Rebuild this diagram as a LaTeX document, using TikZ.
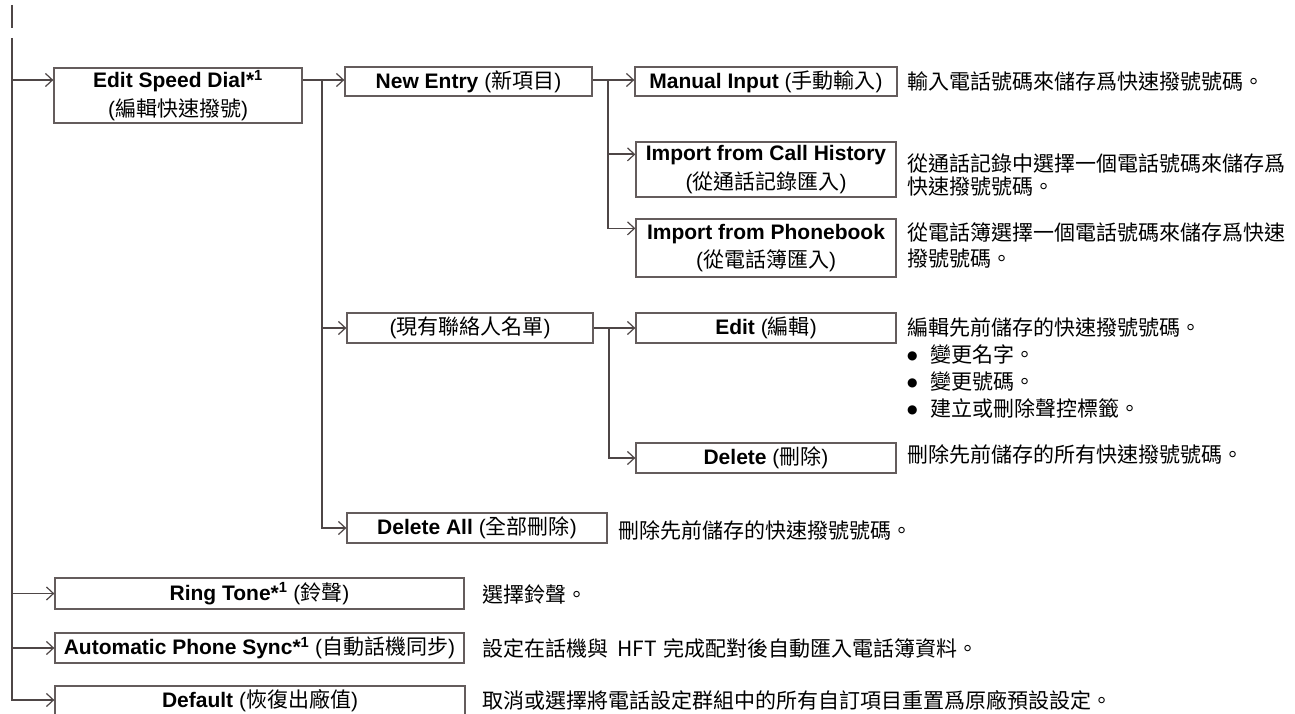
\documentclass[tikz,border=0pt]{standalone}
\usepackage{fontspec}
\setmainfont{Liberation Sans}
\newfontfamily\cjkfont{Noto Sans CJK TC}
\newfontfamily\bulfont{DejaVu Sans}
\usetikzlibrary{arrows.meta,calc}
\definecolor{linec}{RGB}{78,70,70}
\definecolor{boxc}{RGB}{100,92,92}
\newcommand{\zht}[1]{{\cjkfont #1}}
\newcommand{\boxfs}{\fontsize{21pt}{28.5pt}\selectfont}
\newcommand{\descfs}{\fontsize{21pt}{23pt}\selectfont}
\newcommand{\bulitem}{\makebox[23pt][l]{\raisebox{3pt}{\bulfont\fontsize{12pt}{12pt}\selectfont ●}}}
\begin{document}
\begin{tikzpicture}[x=1pt,y=-1pt,
  box/.style={draw=boxc,line width=1.3pt,inner sep=0pt,align=center,font=\boxfs},
  conn/.style={draw=linec,line width=1.7pt},
  arr/.style={conn,-{Straight Barb[length=7pt,width=13pt,line width=1.2pt]}},
  desc/.style={anchor=base west,inner sep=0pt,align=left,font=\descfs\cjkfont}]
\useasboundingbox (0,0) rectangle (1295,714);
\fill[white] (0,0) rectangle (1295,714);
\clip (0,0) rectangle (1295,714);

% boxes
\node[box,minimum width=248pt,minimum height=55pt] (esd) at (178,95.5) {\textbf{Edit Speed Dial*\textsuperscript{1}}\\(\zht{編輯快速撥號})};
\node[box,minimum width=247pt,minimum height=29pt] (new) at (468.5,81.5) {\textbf{New Entry} (\zht{新項目})};
\node[box,minimum width=262pt,minimum height=29pt] (manual) at (766,81.5) {\textbf{Manual Input} (\zht{手動輸入})};
\node[box,minimum width=260pt,minimum height=55pt] (callhist) at (766,169.5) {\textbf{Import from Call History}\\(\zht{從通話記錄匯入})};
\node[box,minimum width=260pt,minimum height=58pt] (phone) at (766,248) {\textbf{Import from Phonebook}\\(\zht{從電話簿匯入})};
\node[box,minimum width=246pt,minimum height=30pt] (exist) at (470,328) {(\zht{現有聯絡人名單})};
\node[box,minimum width=260pt,minimum height=30pt] (edit) at (766,328) {\textbf{Edit} (\zht{編輯})};
\node[box,minimum width=260pt,minimum height=30pt] (del) at (766,458) {\textbf{Delete} (\zht{刪除})};
\node[box,minimum width=260pt,minimum height=30pt] (delall) at (477,528) {\textbf{Delete All} (\zht{全部刪除})};
\node[box,minimum width=409pt,minimum height=31pt] (ring) at (259.5,593.5) {\textbf{Ring Tone*\textsuperscript{1}} (\zht{鈴聲})};
\node[box,minimum width=409pt,minimum height=30pt] (auto) at (259.5,648) {\textbf{Automatic Phone Sync*\textsuperscript{1}} (\zht{自動話機同步})};
\node[box,minimum width=410pt,minimum height=30pt] (def) at (260,701) {\textbf{Default} (\zht{恢復出廠值})};

% descriptions (base anchor = baseline of the last line)
\node[desc] (dManual) at (907,90) {輸入電話號碼來儲存爲快速撥號號碼。};
\node[desc] (dCall) at (907,195) {從通話記錄中選擇一個電話號碼來儲存爲\\快速撥號號碼。};
\node[desc] (dPhone) at (907,266) {從電話簿選擇一個電話號碼來儲存爲快速\\[3pt]撥號號碼。};
\node[desc,font=\fontsize{21pt}{26.7pt}\selectfont\cjkfont] (dEdit) at (907,416) {編輯先前儲存的快速撥號號碼。\\\bulitem 變更名字。\\\bulitem 變更號碼。\\\bulitem 建立或刪除聲控標籤。};
\node[desc] (dDel) at (907,462) {刪除先前儲存的所有快速撥號號碼。};
\node[desc] (dDelAll) at (618,538) {刪除先前儲存的快速撥號號碼。};
\node[desc] (dRing) at (482,602) {選擇鈴聲。};
\node[desc] (dAuto) at (482,656) {設定在話機與\hspace{9pt}HFT\hspace{7pt}完成配對後自動匯入電話簿資料。};
\node[desc] (dDef) at (482,708) {取消或選擇將電話設定群組中的所有自訂項目重置爲原廠預設設定。};

% trunk
\coordinate (stubA) at (12,5);
\coordinate (stubB) at (12,28);
\coordinate (trunkTop) at (12,38);
\coordinate (trunkBot) at (12,700);
\coordinate (tE) at (12,80);
\draw[conn] (stubA) -- (stubB);
\draw[arr] (trunkTop) -- (trunkBot) -- (trunkBot -| def.west);
\draw[arr] (tE) -- (tE -| esd.west);
\draw[arr] (trunkTop |- ring.west) -- (ring.west);
\draw[arr] (trunkTop |- auto.west) -- (auto.west);

% level 2
\coordinate (b2) at (322,80);
\draw[arr] (esd.east |- b2) -- (b2 -| new.west);
\draw[arr] (b2) -- (b2 |- delall.west) -- (delall.west);
\draw[arr] (b2 |- exist.west) -- (exist.west);

% level 3
\coordinate (b3) at (608,80);
\coordinate (aCall) at ($(callhist.north west)+(0,13)$);
\coordinate (aPhone) at ($(phone.north west)+(0,10)$);
\draw[arr] (new.east |- b3) -- (b3 -| manual.west);
\draw[arr] (b3) -- (b3 |- aPhone) -- (aPhone);
\draw[arr] (b3 |- aCall) -- (aCall);

% level 4
\coordinate (b4) at (609,328);
\draw[arr] (exist.east) -- (edit.west);
\draw[arr] (b4) -- (b4 |- del.west) -- (del.west);
\end{tikzpicture}
\end{document}
